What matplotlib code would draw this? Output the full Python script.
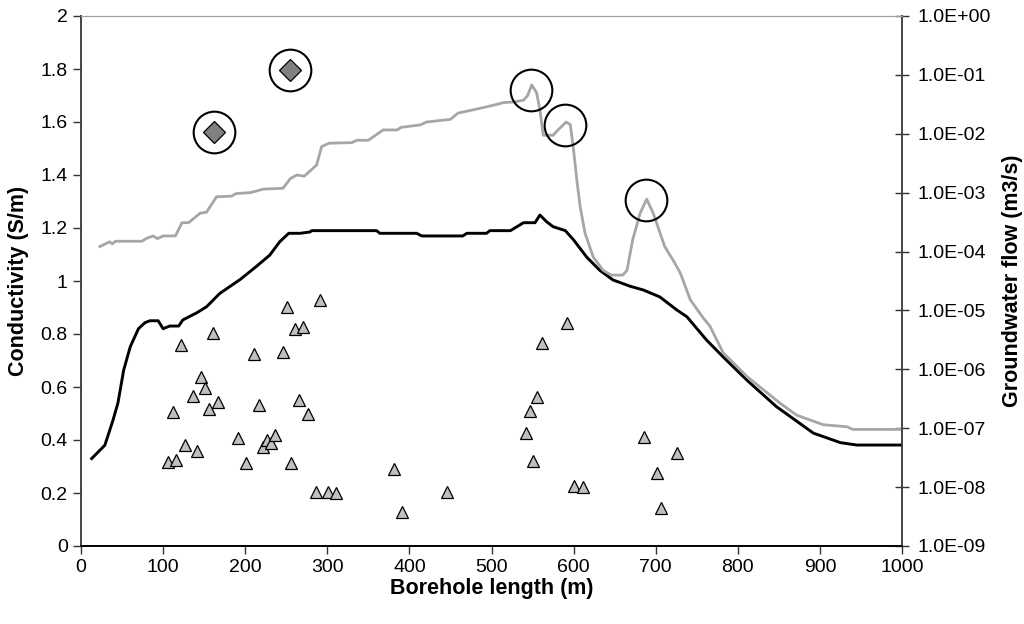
import numpy as np
import matplotlib
matplotlib.use('Agg')
import matplotlib.pyplot as plt
from matplotlib.ticker import FixedLocator, FuncFormatter, NullLocator

plt.rcParams['font.family'] = ['Liberation Sans', 'DejaVu Sans']

# conductivity log along the borehole (black line, left axis)
cond_len = [13, 29, 39, 45, 52, 60, 70, 78, 84, 94, 100, 108, 119, 124, 141, 153, 169, 194,
            214, 230, 242, 253, 267, 279, 281, 360, 364, 409, 415, 465, 470, 494, 498, 523,
            539, 553, 559, 567, 575, 590, 600, 616, 632, 648, 669, 685, 705, 726, 738, 762,
            782, 811, 847, 892, 925, 945, 1000]
cond_val = [0.33, 0.38, 0.475, 0.54, 0.664, 0.752, 0.82, 0.843, 0.85, 0.85, 0.82, 0.83, 0.83,
            0.853, 0.88, 0.903, 0.953, 1.006, 1.056, 1.098, 1.148, 1.18, 1.18, 1.185, 1.19,
            1.19, 1.18, 1.18, 1.17, 1.17, 1.18, 1.18, 1.19, 1.19, 1.22, 1.22, 1.249, 1.224,
            1.205, 1.19, 1.155, 1.09, 1.04, 1.004, 0.98, 0.966, 0.94, 0.89, 0.865, 0.777,
            0.714, 0.626, 0.526, 0.426, 0.39, 0.381, 0.381]

# groundwater flow (grey line, right axis), stored as log10 of m3/s
flow_len = [23, 35, 38, 42, 74, 80, 88, 93, 100, 115, 123, 131, 145, 153, 165, 183, 189, 206,
            222, 246, 255, 263, 272, 287, 293, 302, 330, 336, 350, 368, 385, 390, 413, 421,
            450, 459, 482, 498, 515, 527, 539, 544, 549, 555, 559, 563, 575, 581, 591, 596,
            600, 604, 608, 614, 624, 636, 646, 660, 665, 672, 681, 689, 697, 711, 723, 730,
            742, 758, 766, 782, 811, 851, 872, 904, 933, 940, 1000]
flow_exp = [-3.915, -3.834, -3.87, -3.825, -3.825, -3.775, -3.735, -3.78, -3.735, -3.735,
            -3.51, -3.51, -3.35, -3.33, -3.07, -3.06, -3.015, -3.0, -2.94, -2.925, -2.76,
            -2.70, -2.72, -2.53, -2.22, -2.16, -2.15, -2.11, -2.11, -1.935, -1.935, -1.89,
            -1.85, -1.80, -1.755, -1.65, -1.58, -1.53, -1.47, -1.46, -1.43, -1.35, -1.17,
            -1.305, -1.60, -2.025, -2.025, -1.935, -1.80, -1.845, -2.28, -2.79, -3.24, -3.69,
            -4.095, -4.32, -4.40, -4.40, -4.32, -3.80, -3.35, -3.11, -3.35, -3.915, -4.19,
            -4.365, -4.815, -5.13, -5.265, -5.715, -6.12, -6.57, -6.78, -6.94, -6.975, -7.02,
            -7.02]

# flow anomalies marked by circles (right axis, log10)
peak_len = [548, 590, 688]
peak_exp = [-1.25, -1.85, -3.12]

# sample conductivities (triangles, left axis)
tri_len = [105.6, 116, 111.6, 121.4, 126.3, 136, 141, 146.2, 151, 156.3, 161, 166.5, 191.6,
           201.4, 211, 216.4, 221.3, 226, 231.4, 236.3, 246, 251, 255.8, 261, 266, 271, 276,
           286, 291, 301, 311, 381, 391, 446, 541.6, 546.5, 551, 556, 561, 591.6, 601, 611,
           686, 701, 706.5, 726]
tri_val = [0.318, 0.323, 0.507, 0.758, 0.381, 0.566, 0.36, 0.636, 0.595, 0.516, 0.803, 0.545,
           0.409, 0.314, 0.725, 0.532, 0.372, 0.40, 0.388, 0.419, 0.733, 0.903, 0.312, 0.819,
           0.551, 0.828, 0.50, 0.203, 0.928, 0.205, 0.199, 0.289, 0.13, 0.205, 0.425, 0.509,
           0.321, 0.561, 0.767, 0.843, 0.226, 0.221, 0.412, 0.274, 0.145, 0.35]

# high values (diamonds, left axis)
dia_len = [162, 254.6]
dia_val = [1.561, 1.796]

fig = plt.figure(figsize=(10.24, 6.24), dpi=100)
ax = fig.add_axes([81 / 1024, 78 / 624, 821 / 1024, 530 / 624])
ax2 = ax.twinx()

ax.plot(cond_len, cond_val, color='black', lw=2.1, zorder=3)
ax.plot(tri_len, tri_val, ls='none', marker='^', ms=8, mfc='#c0c0c0', mec='black', mew=0.9, zorder=4)
ax.plot(dia_len, dia_val, ls='none', marker='D', ms=11, mfc='#808080', mec='black', mew=0.9, zorder=4)
ax.plot(dia_len, dia_val, ls='none', marker='o', ms=30, mfc='none', mec='black', mew=1.5, zorder=4)

flow = 10.0 ** np.array(flow_exp)
peaks = 10.0 ** np.array(peak_exp)
ax2.plot(flow_len, flow, color='#a6a6a6', lw=2.0, zorder=2)
ax2.plot(peak_len, peaks, ls='none', marker='o', ms=30, mfc='none', mec='black', mew=1.5, zorder=4)

ax.set_xlim(0, 1000)
ax.set_ylim(0, 2)
ax.set_xticks(np.arange(0, 1001, 100))
ax.set_yticks(np.arange(0, 2.01, 0.2))
ax.yaxis.set_major_formatter(FuncFormatter(lambda v, p: f'{v:g}'))

ax2.set_yscale('log')
ax2.set_ylim(1e-9, 1e0)
ax2.yaxis.set_major_locator(FixedLocator([10.0 ** k for k in range(-9, 1)]))
ax2.yaxis.set_minor_locator(NullLocator())
ax2.yaxis.set_major_formatter(FuncFormatter(lambda v, p: f'{v:.1E}'))

ax.tick_params(axis='both', labelsize=14, length=6, width=1, direction='out', color='#333333')
ax.tick_params(axis='x', pad=3)
ax2.tick_params(axis='y', labelsize=14, length=10, width=1, direction='inout', color='#333333', pad=6)

for a in (ax, ax2):
    a.spines['top'].set_color('#a0a0a0')
    a.spines['top'].set_linewidth(0.8)
    a.spines['left'].set_color('#444444')
    a.spines['right'].set_color('#444444')
    a.spines['bottom'].set_color('black')
    a.spines['left'].set_linewidth(1.2)
    a.spines['right'].set_linewidth(1.2)
    a.spines['bottom'].set_linewidth(1.2)

ax.set_xlabel('Borehole length (m)', fontsize=15.5, fontweight='bold', labelpad=2)
ax.set_ylabel('Conductivity (S/m)', fontsize=15.5, fontweight='bold', labelpad=8)
ax2.set_ylabel('Groundwater flow (m3/s)', fontsize=15.5, fontweight='bold', labelpad=8)

fig.savefig('out.png', dpi=100)
